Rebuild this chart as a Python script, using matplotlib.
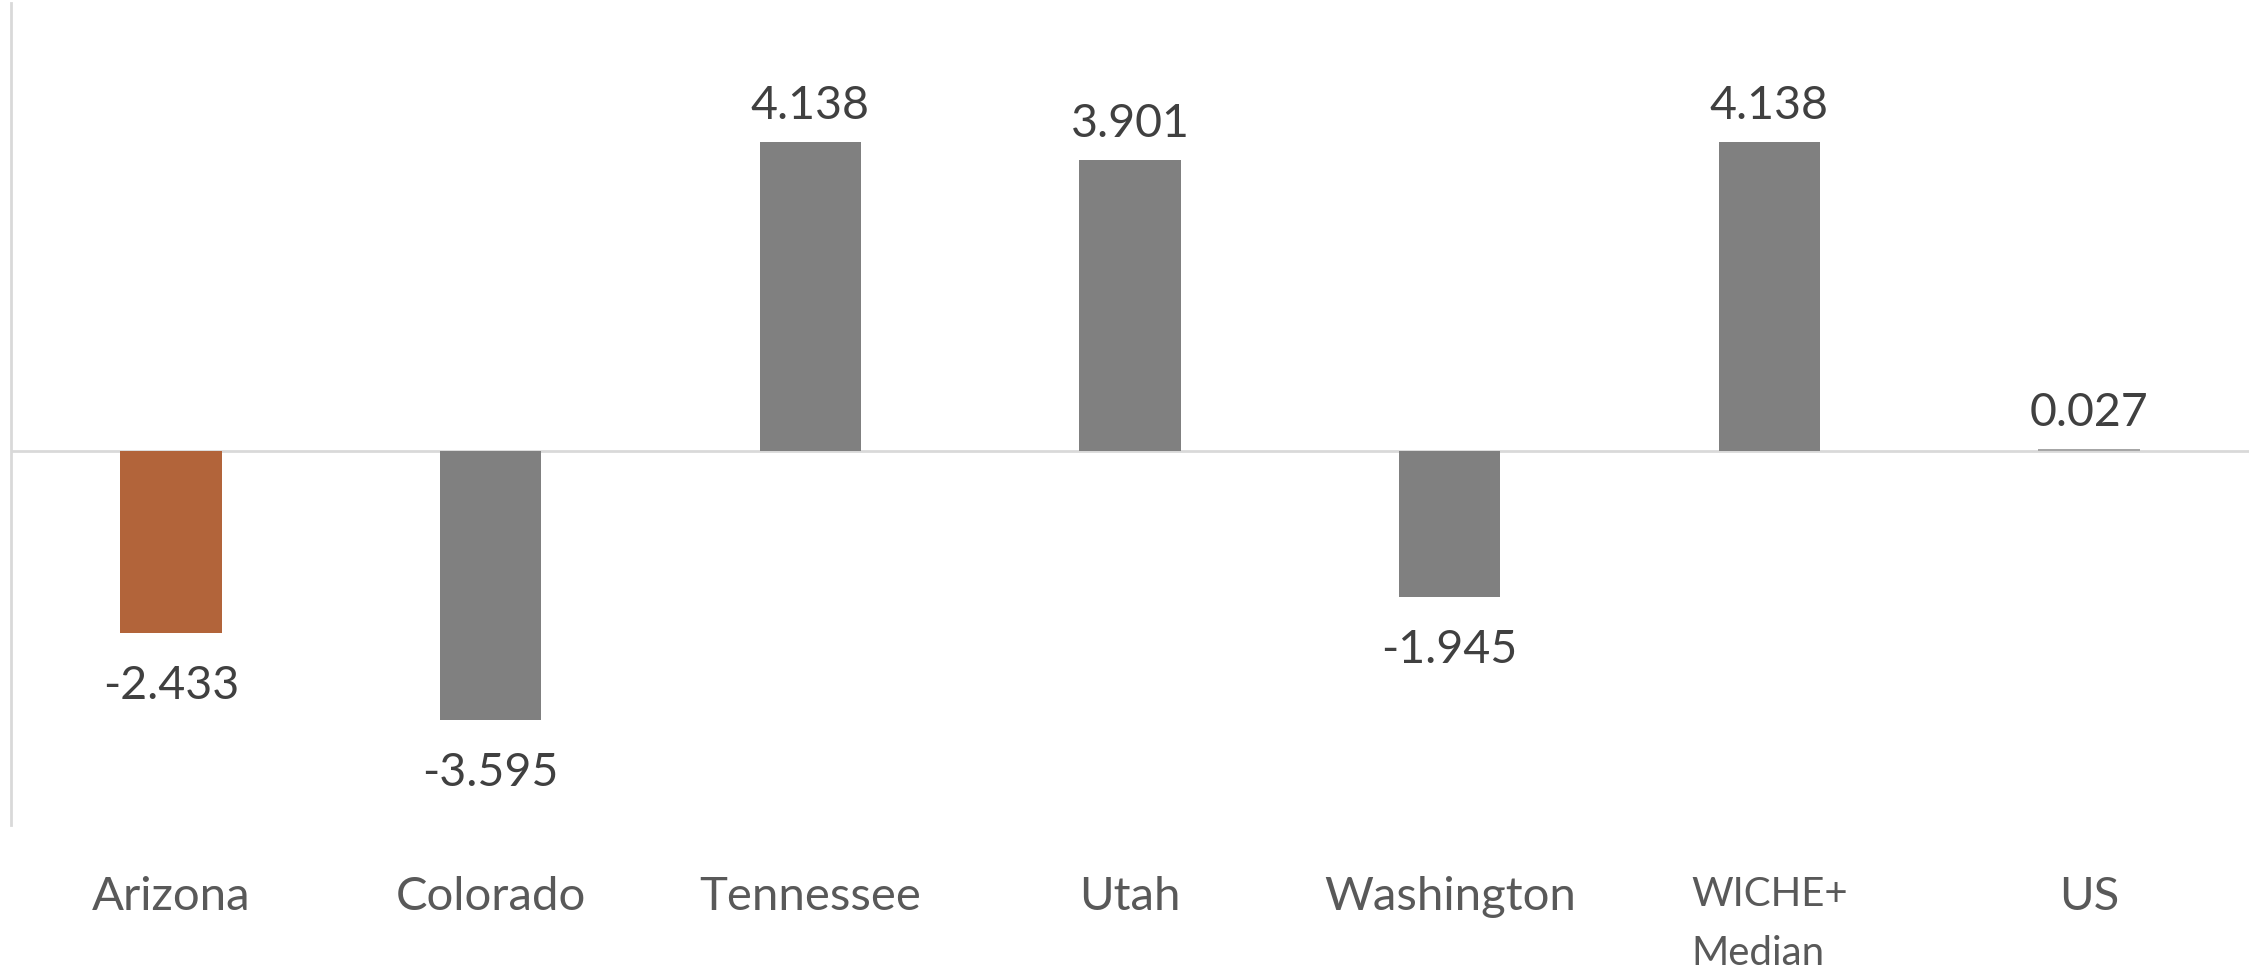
import matplotlib.pyplot as plt
import numpy as np

plt.rcParams['font.family'] = ['Lato', 'DejaVu Sans']

states = ["Arizona", "Colorado", "Tennessee", "Utah", "Washington", "WICHE+\nMedian", "US"]
values = [-2.433, -3.595, 4.138, 3.901, -1.945, 4.138, 0.027]
bar_colors = ["#B2643A", "#808080", "#808080", "#808080", "#808080", "#808080", "#A6A6A6"]

fig = plt.figure(figsize=(22.49, 9.77), dpi=100)
ax = fig.add_axes([0.0049, 0.1556, 0.9951, 0.8414])

x = np.arange(len(states))
ax.bar(x, values, width=0.317, color=bar_colors, zorder=3)
ax.axhline(0, color='#D9D9D9', linewidth=2, zorder=2)

for xi, v in zip(x, values):
    if v >= 0:
        ax.annotate("{:.3f}".format(v), (xi, v), xytext=(0, 11), textcoords='offset points',
                    ha='center', va='bottom', fontsize=33.5, color='#404040')
    else:
        ax.annotate("{:.3f}".format(v), (xi, v), xytext=(0, -23), textcoords='offset points',
                    ha='center', va='top', fontsize=33.5, color='#404040')

ax.set_xlim(-0.5, len(states) - 0.5)
ax.set_ylim(-5, 6)
ax.set_yticks([])
ax.set_xticks(x)
ax.set_xticklabels(states, fontsize=34, color='#595959', va='top', multialignment='left',
                   linespacing=1.72)
ax.get_xticklabels()[5].set_fontsize(29)
ax.tick_params(axis='x', length=0, pad=37)

for s in ['top', 'right', 'bottom']:
    ax.spines[s].set_visible(False)
ax.spines['left'].set_color('#D9D9D9')
ax.spines['left'].set_linewidth(2)

fig.savefig("out.png", dpi=100)
